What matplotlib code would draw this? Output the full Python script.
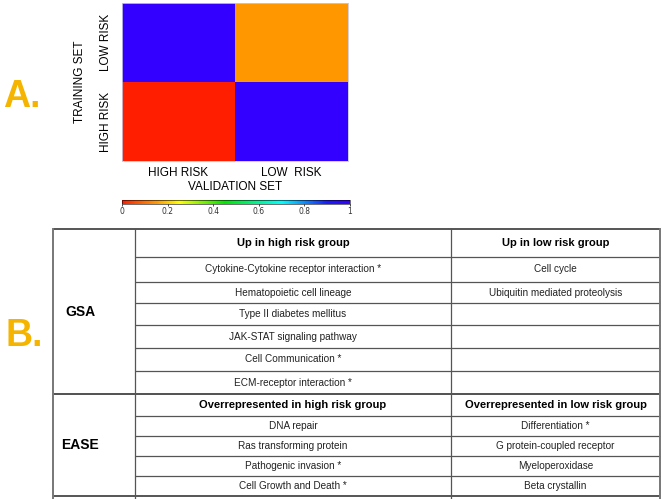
import numpy as np
import matplotlib
matplotlib.use("Agg")
import matplotlib.pyplot as plt
from matplotlib.colors import LinearSegmentedColormap

# heatmap data (rows: training set, cols: validation set)
train_labels = ["LOW RISK", "HIGH RISK"]
valid_labels = ["HIGH RISK", "LOW  RISK"]
heat_values = [[1.0, 0.15],
               [0.0, 1.0]]
cbar_ticks = [0, 0.2, 0.4, 0.6, 0.8, 1]

# table data
gsa_header = ["Up in high risk group", "Up in low risk group"]
gsa_high = ["Cytokine-Cytokine receptor interaction *", "Hematopoietic cell lineage",
            "Type II diabetes mellitus", "JAK-STAT signaling pathway",
            "Cell Communication *", "ECM-receptor interaction *"]
gsa_low = ["Cell cycle", "Ubiquitin mediated proteolysis", "", "", "", ""]
ease_header = ["Overrepresented in high risk group", "Overrepresented in low risk group"]
ease_high = ["DNA repair", "Ras transforming protein", "Pathogenic invasion *",
             "Cell Growth and Death *"]
ease_low = ["Differentiation *", "G protein-coupled receptor", "Myeloperoxidase",
            "Beta crystallin"]

W, H = 662, 499
fig = plt.figure(figsize=(W / 100, H / 100), dpi=100)
fig.patch.set_facecolor("white")
label_color = "#F5B400"
font = "Liberation Sans"

cmap = LinearSegmentedColormap.from_list("risk", [
    (0.0, (1.0, 0.12, 0.0)), (0.15, (1.0, 0.6, 0.0)), (0.25, (1.0, 1.0, 0.0)),
    (0.45, (0.0, 0.9, 0.0)), (0.7, (0.0, 1.0, 1.0)), (0.9, (0.1, 0.1, 1.0)),
    (1.0, (0.2, 0.0, 1.0))])

# ---- panel A: heatmap
ax = fig.add_axes([122 / W, 1 - 161 / H, 226 / W, 158 / H])
ax.imshow(np.array(heat_values), cmap=cmap, vmin=0, vmax=1, aspect="auto",
          interpolation="nearest")
ax.set_xticks(range(len(valid_labels)), valid_labels, fontsize=8.5, family=font)
ax.set_yticks(range(len(train_labels)), train_labels, fontsize=8.5, family=font,
              rotation=90, va="center")
ax.tick_params(axis="x", length=0, pad=4)
ax.tick_params(axis="y", length=0, pad=7)
ax.set_xlabel("VALIDATION SET", fontsize=8.5, family=font, labelpad=2)
ax.set_ylabel("TRAINING SET", fontsize=8.5, family=font, labelpad=10)
for s in ax.spines.values():
    s.set_color("#c8c8e0")
    s.set_linewidth(0.6)

cax = fig.add_axes([122 / W, 1 - 204 / H, 228 / W, 4 / H])
sm = plt.cm.ScalarMappable(cmap=cmap, norm=plt.Normalize(0, 1))
cb = fig.colorbar(sm, cax=cax, orientation="horizontal", ticks=cbar_ticks)
cb.ax.set_xticklabels([f"{t:g}" for t in cbar_ticks], fontsize=5.5, color="#333333")
cb.ax.tick_params(length=1.5, pad=1, width=0.5)
cb.outline.set_linewidth(0.4)

fig.text(3 / W, 1 - 97 / H, "A.", fontsize=27, fontweight="bold", family=font,
         color=label_color, ha="left", va="center")
fig.text(5 / W, 1 - 336 / H, "B.", fontsize=27, fontweight="bold", family=font,
         color=label_color, ha="left", va="center")

# ---- panel B: table
tx = fig.add_axes([0, 0, 1, 1])
tx.set_xlim(0, W)
tx.set_ylim(H, 0)
tx.axis("off")

col_x = [53, 135, 451, 660]
gsa_rows = [229, 257, 282, 303, 325, 348, 371, 394]
ease_rows = [394, 416, 436, 456, 476, 496]
line_c = "#555555"

def draw_section(rows, name, header, high, low):
    for i, y in enumerate(rows):
        x0 = col_x[0] if i in (0, len(rows) - 1) else col_x[1]
        tx.plot([x0, col_x[3]], [y, y], color=line_c,
                lw=1.4 if x0 == col_x[0] else 0.9, solid_capstyle="butt")
    tx.text(80, (rows[0] + rows[-1]) / 2, name, fontsize=10, fontweight="bold",
            ha="center", va="center", family=font)
    c1 = (col_x[1] + col_x[2]) / 2
    c2 = (col_x[2] + col_x[3]) / 2
    ym = (rows[0] + rows[1]) / 2
    tx.text(c1, ym, header[0], fontsize=8, fontweight="bold", ha="center",
            va="center", family=font)
    tx.text(c2, ym, header[1], fontsize=8, fontweight="bold", ha="center",
            va="center", family=font)
    for i, (a, b) in enumerate(zip(high, low)):
        ym = (rows[i + 1] + rows[i + 2]) / 2
        tx.text(c1, ym, a, fontsize=7.2, ha="center", va="center",
                family=font, color="#222222")
        tx.text(c2, ym, b, fontsize=7.2, ha="center", va="center",
                family=font, color="#222222")

draw_section(gsa_rows, "GSA", gsa_header, gsa_high, gsa_low)
draw_section(ease_rows, "EASE", ease_header, ease_high, ease_low)

for i, x in enumerate(col_x):
    tx.plot([x, x], [gsa_rows[0], H], color="#777777" if i in (0, 3) else line_c,
            lw=1.4 if i in (0, 3) else 0.9)

fig.savefig("out.png", dpi=100, facecolor="white")
